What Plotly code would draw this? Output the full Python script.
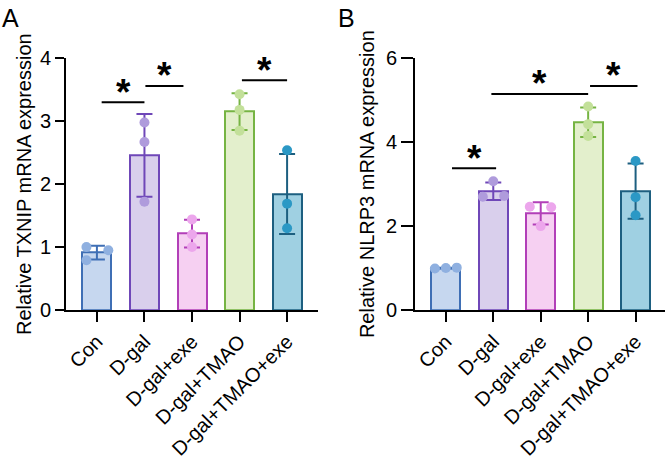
import plotly.graph_objects as go
import numpy as np

groups = ["Con", "D-gal", "D-gal+exe", "D-gal+TMAO", "D-gal+TMAO+exe"]
txnip = [[1.00, 0.79, 0.95], [2.98, 2.67, 1.72], [1.44, 1.20, 1.00],
         [3.43, 3.18, 2.85], [2.54, 1.69, 1.30]]
nlrp3 = [[0.99, 1.00, 1.01], [2.70, 3.07, 2.72], [2.46, 2.45, 2.00],
         [4.85, 4.43, 4.15], [3.55, 2.69, 2.26]]

# horizontal jitter of replicate points (category units)
jit_A = [[-0.22, -0.22, 0.24], [0, 0, 0], [0, 0, 0], [0, 0, 0], [0, 0, 0]]
jit_B = [[-0.23, 0, 0.23], [-0.22, 0, 0.23], [-0.23, 0.22, 0], [0, 0, 0], [0, 0, 0]]

# significance brackets: (from, to, height)
sig_A = [(0.10, 1.00, 3.30), (1.02, 1.82, 3.56), (3.05, 4.00, 3.65)]
sig_B = [(0.13, 1.06, 3.38), (0.96, 3.00, 5.15), (3.04, 4.04, 5.34)]

fills = ["#c6d7ef", "#d9cfec", "#f6d0f2", "#e3efcc", "#9fd0e2"]
edges = ["#3f6fb5", "#6f47b8", "#b23fb8", "#76b443", "#1d5f80"]
dots = ["#8fb0e0", "#af9bdc", "#eca6ec", "#c3e09a", "#2b98c5"]

FONT = "Liberation Sans, Arial, sans-serif"
W, H = 669, 460

fig = go.Figure()


def add_panel(vals, jit, sig, xa, ya):
    xs = list(range(len(groups)))
    means = [float(np.mean(v)) for v in vals]
    sds = [float(np.std(v, ddof=1)) for v in vals]
    for i in xs:
        fig.add_trace(go.Bar(
            x=[i], y=[means[i]], width=0.61,
            marker=dict(color=fills[i], line=dict(color=edges[i], width=2)),
            error_y=dict(type="data", array=[sds[i]], visible=True,
                         color=edges[i], thickness=2, width=8),
            xaxis=xa, yaxis=ya, showlegend=False))
    for i in xs:
        fig.add_trace(go.Scatter(
            x=[i + j for j in jit[i]], y=vals[i], mode="markers",
            marker=dict(color=dots[i], size=10),
            xaxis=xa, yaxis=ya, showlegend=False, cliponaxis=False))
    for (a, b, h) in sig:
        fig.add_shape(type="line", x0=a, x1=b, y0=h, y1=h,
                      xref=xa, yref=ya, line=dict(color="black", width=2))
        fig.add_annotation(x=(a + b) / 2, y=h, xref=xa, yref=ya,
                           text="<b>*</b>", showarrow=False,
                           font=dict(family=FONT, size=37, color="black"),
                           yanchor="middle", yshift=10)


add_panel(txnip, jit_A, sig_A, "x", "y")
add_panel(nlrp3, jit_B, sig_B, "x2", "y2")

ydom = [1 - 310 / H, 1 - 58.3 / H]
axis_common = dict(showline=True, linecolor="black", linewidth=2,
                   ticks="outside", tickwidth=2, tickcolor="black",
                   showgrid=False, zeroline=False, automargin=False,
                   tickfont=dict(family=FONT, size=20, color="black"))

fig.update_layout(
    width=W, height=H, margin=dict(l=0, r=0, t=0, b=0),
    plot_bgcolor="white", paper_bgcolor="white",
    bargap=0,
    xaxis=dict(domain=[66 / W, 318 / W], range=[-0.65, 4.65],
               tickvals=list(range(5)), ticktext=groups, tickangle=-45,
               ticklen=10, anchor="y", **axis_common),
    yaxis=dict(domain=ydom, range=[0, 4], tickvals=[0, 1, 2, 3, 4],
               ticklen=9, anchor="x",
               title=dict(text="Relative TXNIP mRNA expression",
                          font=dict(family=FONT, size=20, color="black"),
                          standoff=3),
               **axis_common),
    xaxis2=dict(domain=[415 / W, 665 / W], range=[-0.65, 4.62],
                tickvals=list(range(5)), ticktext=groups, tickangle=-45,
                ticklen=10, anchor="y2", **axis_common),
    yaxis2=dict(domain=ydom, range=[0, 6], tickvals=[0, 2, 4, 6],
                ticklen=12, anchor="x2",
                title=dict(text="Relative NLRP3 mRNA expression",
                           font=dict(family=FONT, size=20, color="black"),
                           standoff=6),
                **axis_common),
)

fig.add_annotation(x=0 / W, y=1 - 2 / H, xref="paper", yref="paper",
                   text="A", showarrow=False, xanchor="left", yanchor="top",
                   font=dict(family=FONT, size=25, color="black"))
fig.add_annotation(x=336 / W, y=1 - 2 / H, xref="paper", yref="paper",
                   text="B", showarrow=False, xanchor="left", yanchor="top",
                   font=dict(family=FONT, size=25, color="black"))

fig.write_html("out.html")
